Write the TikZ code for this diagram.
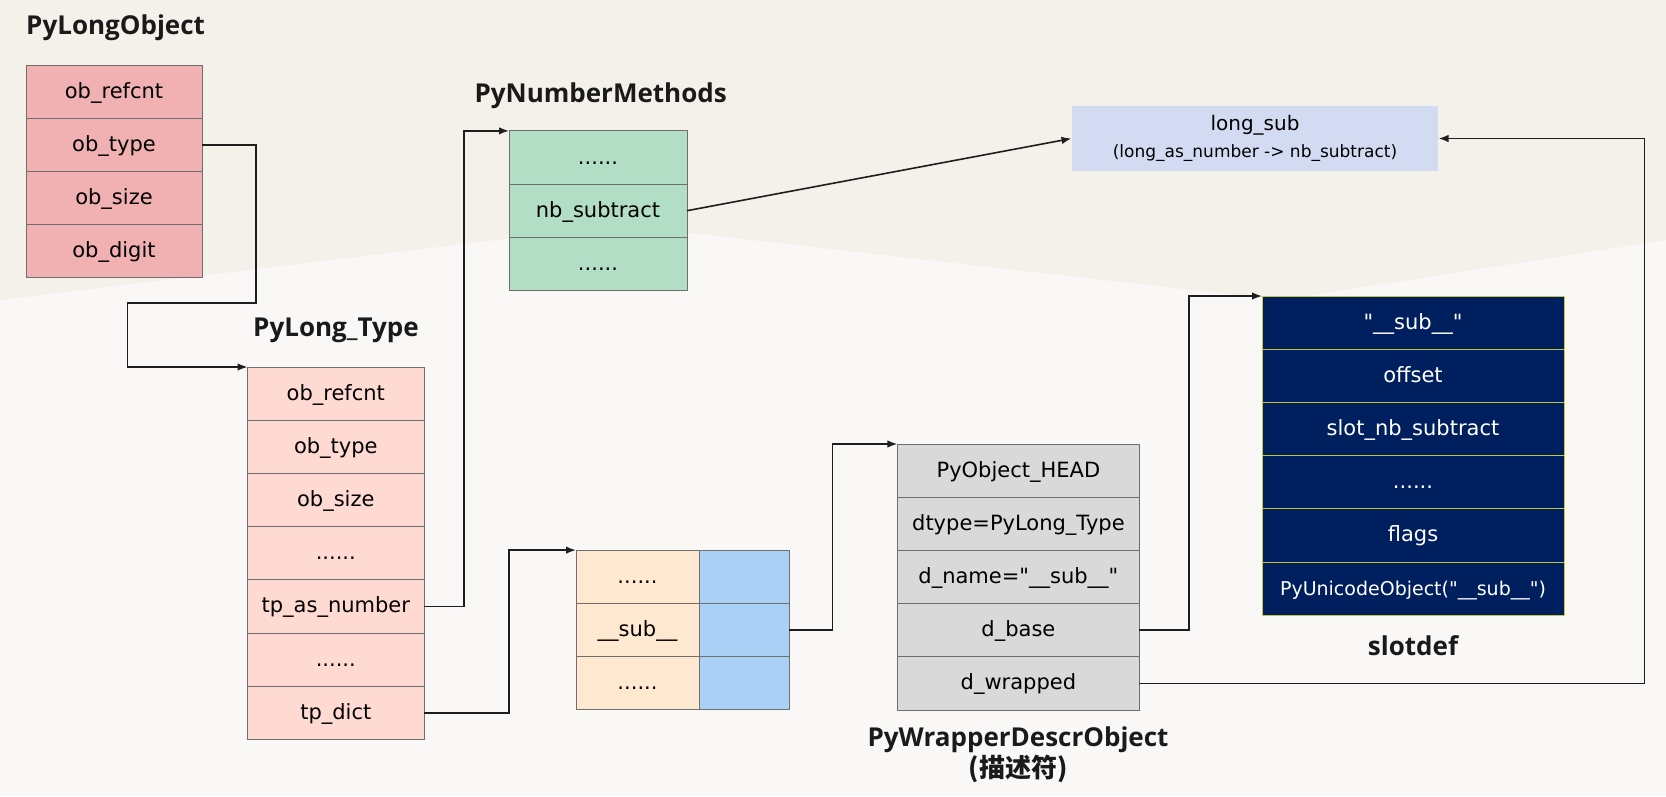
\documentclass[tikz,border=0pt]{standalone}
\usepackage{fontspec}
\setmainfont{DejaVu Sans}
\newfontfamily\titlefont{Open Sans}
\newfontfamily\cjk{Noto Sans CJK SC}
\usetikzlibrary{positioning,arrows.meta}

\definecolor{bglight}{HTML}{F9F8F7}
\definecolor{bgbeige}{HTML}{F4F0EA}
\definecolor{cellline}{HTML}{6E6E6E}
\definecolor{linkcol}{HTML}{1E1E1E}
\definecolor{longobj}{HTML}{F1B1B2}
\definecolor{longtype}{HTML}{FFDAD2}
\definecolor{nummeth}{HTML}{B3DEC6}
\definecolor{longsub}{HTML}{D3DBF2}
\definecolor{dictkey}{HTML}{FFE8CF}
\definecolor{dictval}{HTML}{AAD1F5}
\definecolor{wrapper}{HTML}{D9D9D9}
\definecolor{slotfill}{HTML}{001F5F}
\definecolor{slotline}{HTML}{C6C83A}
\definecolor{titletext}{HTML}{1A1A1A}

\newcommand{\dq}{\XeTeXglyph\XeTeXcharglyph"22\relax}

\begin{document}
\begin{tikzpicture}[x=1pt, y=-1pt, >={Latex[length=10pt,width=7.5pt]}, line width=1pt,
  cell/.style = {draw=cellline, minimum height=53.2pt, inner sep=0pt, outer sep=0pt,
    text height=16pt, text depth=3pt, font=\fontsize{21}{25}\selectfont},
  lobox/.style = {cell, fill=longobj, minimum width=176pt},
  ltbox/.style = {cell, fill=longtype, minimum width=176.5pt},
  nmbox/.style = {cell, fill=nummeth, minimum width=178pt},
  dkbox/.style = {cell, fill=dictkey, minimum width=123pt},
  dvbox/.style = {cell, fill=dictval, minimum width=90pt},
  wdbox/.style = {cell, fill=wrapper, minimum width=242pt},
  sdbox/.style = {cell, fill=slotfill, draw=slotline, text=white, minimum width=302pt},
  title/.style = {font=\titlefont\bfseries\fontsize{26}{30}\selectfont, text=titletext, inner sep=0pt},
  link/.style = {->, line width=1.6pt, draw=linkcol}]

% background
\fill[bglight] (0,0) rectangle (1666,796);
\fill[bgbeige] (0,0) -- (1666,0) -- (1666,240) -- (1280,300) -- (620,225) -- (0,300) -- cycle;
\useasboundingbox (0,0) rectangle (1666,796);

% PyLongObject
\node[title, anchor=base west] (tlo) at (25.7,34) {PyLongObject};
\node[lobox] (lo1) at (114,91.6) {ob\_refcnt};
\node[lobox, below=0pt of lo1] (lo2) {ob\_type};
\node[lobox, below=0pt of lo2] (lo3) {ob\_size};
\node[lobox, below=0pt of lo3] (lo4) {ob\_digit};

% PyLong_Type
\node[title, anchor=base] (tlt) at (336,336) {PyLong\_Type};
\node[ltbox] (lt1) at (335.8,393.6) {ob\_refcnt};
\node[ltbox, below=0pt of lt1] (lt2) {ob\_type};
\node[ltbox, below=0pt of lt2] (lt3) {ob\_size};
\node[ltbox, below=0pt of lt3] (lt4) {......};
\node[ltbox, below=0pt of lt4] (lt5) {tp\_as\_number};
\node[ltbox, below=0pt of lt5] (lt6) {......};
\node[ltbox, below=0pt of lt6] (lt7) {tp\_dict};

% PyNumberMethods
\node[title, anchor=base west] (tnm) at (474,102) {PyNumberMethods};
\node[nmbox] (nm1) at (598,157.5) {......};
\node[nmbox, below=0pt of nm1] (nm2) {nb\_subtract};
\node[nmbox, below=0pt of nm2] (nm3) {......};

% long_sub
\node[fill=longsub, minimum width=366pt, minimum height=65pt, inner sep=0pt, align=center] (ls) at (1255,138.5)
  {{\fontsize{20}{24}\selectfont long\_sub}\\[9pt]{\fontsize{17}{20}\selectfont (long\_as\_number -> nb\_subtract)}};

% tp_dict
\node[dkbox] (dk1) at (637.5,576.7) {......};
\node[dvbox, right=0pt of dk1] (dv1) {};
\node[dkbox, below=0pt of dk1] (dk2) {\_\_sub\_\_};
\node[dvbox, right=0pt of dk2] (dv2) {};
\node[dkbox, below=0pt of dk2] (dk3) {......};
\node[dvbox, right=0pt of dk3] (dv3) {};

% PyWrapperDescrObject
\node[wdbox] (wd1) at (1018.4,470.6) {PyObject\_HEAD};
\node[wdbox, below=0pt of wd1] (wd2) {dtype=PyLong\_Type};
\node[wdbox, below=0pt of wd2] (wd3) {d\_name=\dq\_\_sub\_\_\dq};
\node[wdbox, below=0pt of wd3] (wd4) {d\_base};
\node[wdbox, below=0pt of wd4] (wd5) {d\_wrapped};
\node[title, anchor=base] (twd) at (1018,746.7) {PyWrapperDescrObject};
\node[title, anchor=base] (twd2) at (1018,777) {{\cjk\bfseries (描述符)}};

% slotdef
\node[sdbox] (sd1) at (1413,322.6) {\dq\_\_sub\_\_\dq};
\node[sdbox, below=0pt of sd1] (sd2) {offset};
\node[sdbox, below=0pt of sd2] (sd3) {slot\_nb\_subtract};
\node[sdbox, below=0pt of sd3] (sd4) {......};
\node[sdbox, below=0pt of sd4] (sd5) {flags};
\node[sdbox, below=0pt of sd5, font=\fontsize{19}{23}\selectfont] (sd6) {PyUnicodeObject(\dq\_\_sub\_\_\dq)};
\node[title, anchor=base] (tsd) at (1413,655) {slotdef};

% links
\draw[link] (lo2.east) -| (256,303) -| (127.5,367) -- (lt1.north west);
\draw[link] (lt5.east) -| ([xshift=-45pt]nm1.north west) -- (nm1.north west);
\draw[link] (nm2.east) -- (ls.west);
\draw[link] (lt7.east) -| ([xshift=-67pt]dk1.north west) -- (dk1.north west);
\draw[link] (dv2.east) -| ([xshift=-65pt]wd1.north west) -- (wd1.north west);
\draw[link] (wd4.east) -| ([xshift=-73pt]sd1.north west) -- (sd1.north west);
\draw[link] (wd5.east) -| ([xshift=206pt]ls.east) -- (ls.east);
\end{tikzpicture}
\end{document}
